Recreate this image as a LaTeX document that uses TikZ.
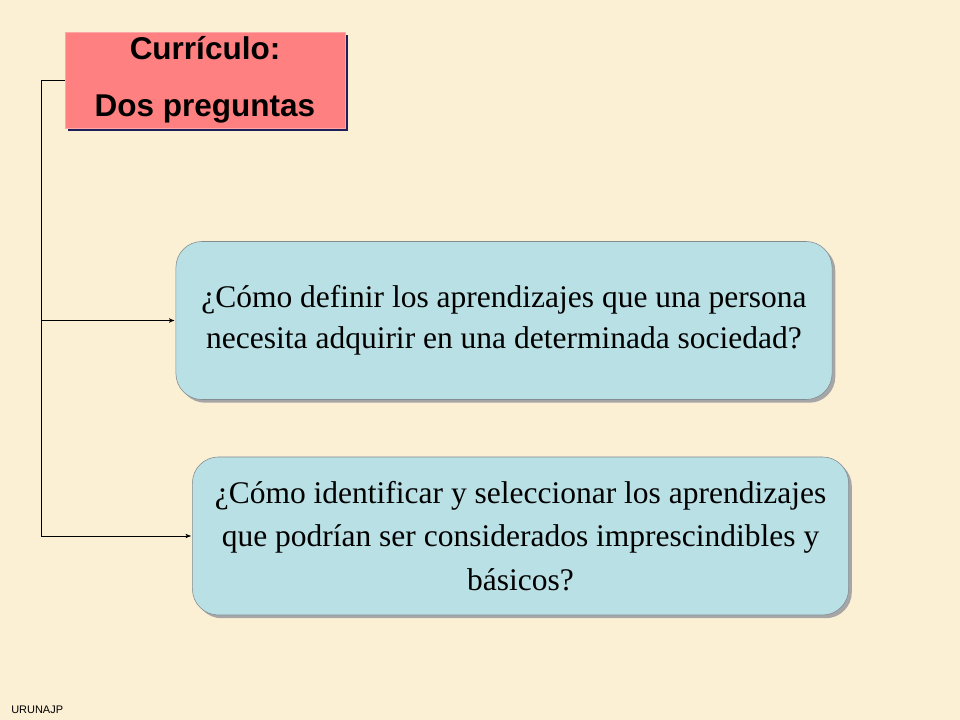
\documentclass[tikz,border=0pt]{standalone}
\usepackage{fontspec}
\setmainfont{Liberation Serif}
\newfontfamily\arialfont{Liberation Sans}
\usepackage{tikz}
\usetikzlibrary{arrows,positioning,shadows}
\definecolor{paper}{RGB}{252,240,212}
\definecolor{titlepink}{RGB}{255,128,128}
\definecolor{titleshadow}{RGB}{30,30,90}
\definecolor{askblue}{RGB}{185,224,228}
\definecolor{askedge}{RGB}{130,140,145}
\tikzset{%
titlebox/.style={rectangle, fill=titlepink, draw=titlepink!70!white, thin,
  minimum width=7cm, minimum height=2.35cm, align=center,
  font=\arialfont\bfseries\fontsize{22.4}{40.5}\selectfont,
  drop shadow={shadow xshift=0.08cm, shadow yshift=-0.08cm, opacity=1, fill=titleshadow}},
askbox/.style={rectangle, rounded corners=0.65cm, fill=askblue, draw=askedge, thin,
  minimum width=16.4cm, minimum height=3.95cm, align=center,
  font=\fontsize{22.4}{29}\selectfont,
  drop shadow={shadow xshift=0.08cm, shadow yshift=-0.08cm, opacity=1, fill=gray!70}},
link/.style={draw=black, thin, ->, >=stealth', shorten >=1pt}
}
\begin{document}
\begin{tikzpicture}[x=0.025cm, y=-0.025cm]
			\fill[paper] (0,0) rectangle (960,720);
			\useasboundingbox (0,0) rectangle (960,720);
			\node[titlebox] (title) at (205,80) {\raisebox{-2pt}{Currículo:}\\\raisebox{-2pt}{Dos preguntas}};
			\node[askbox] (first) at (504,320.5) {¿Cómo definir los aprendizajes que una persona\\necesita adquirir en una determinada sociedad?};
			\node[askbox, font=\fontsize{22.4}{31}\selectfont] (second) at (520.5,536) {¿Cómo identificar y seleccionar los aprendizajes\\que podrían ser considerados imprescindibles y\\básicos?};
			\coordinate (top) at (41,80);
			\coordinate (bottom) at (41,536);
			\draw[thin] (title.west) -- (top) -- (bottom);
			\path[link] (top |- first.west) -- (first.west);
			\path[link] (bottom) -- (second.west);
			\node[anchor=base west, inner sep=0pt, font=\arialfont\fontsize{7.8}{9}\selectfont] (footer) at (11,713) {URUNAJP};
		\end{tikzpicture}
\end{document}
